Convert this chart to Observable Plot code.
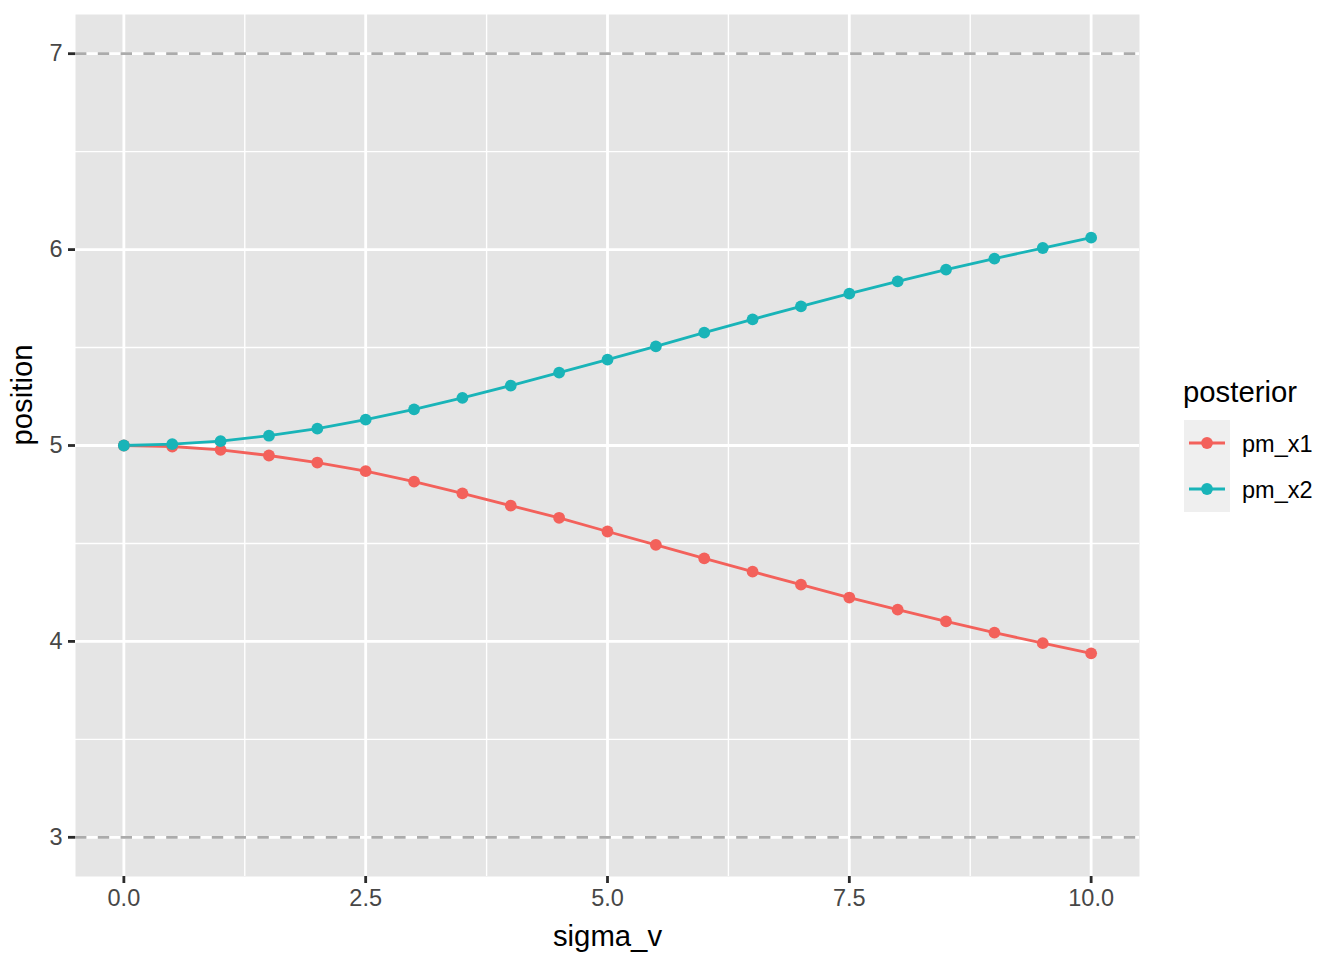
<!DOCTYPE html>
<html>
<head>
<meta charset="utf-8">
<script src="https://cdn.jsdelivr.net/npm/d3@7"></script>
<script src="https://cdn.jsdelivr.net/npm/@observablehq/plot@0.6"></script>
<style>
  body { margin: 0; background: #ffffff; }
  #chart svg { display: block; }
</style>
</head>
<body>
<div id="chart"></div>
<script>
const sigma_v = [0, 0.5, 1, 1.5, 2, 2.5, 3, 3.5, 4, 4.5, 5, 5.5, 6, 6.5, 7, 7.5, 8, 8.5, 9, 9.5, 10];
const pm_x1 = [5.000, 4.995, 4.978, 4.949, 4.913, 4.869, 4.816, 4.756, 4.693, 4.631, 4.561,
               4.493, 4.424, 4.356, 4.290, 4.224, 4.162, 4.102, 4.045, 3.991, 3.939];
const pm_x2 = [5.000, 5.007, 5.022, 5.050, 5.086, 5.132, 5.184, 5.243, 5.306, 5.372, 5.438,
               5.506, 5.576, 5.644, 5.710, 5.775, 5.838, 5.898, 5.954, 6.008, 6.061];
const series = ["pm_x1", "pm_x2"];
const seriesColors = ["#F3615B", "#19B4B8"];
const xTicks = [0, 2.5, 5, 7.5, 10];
const xMinor = [1.25, 3.75, 6.25, 8.75];
const yTicks = [3, 4, 5, 6, 7];
const yMinor = [3.5, 4.5, 5.5, 6.5];
const refLines = [3, 7];
const xTitle = "sigma_v";
const yTitle = "position";
const legendTitle = "posterior";

const seriesValues = {pm_x1, pm_x2};
const data = [];
series.forEach(s => {
  sigma_v.forEach((x, i) => data.push({sigma_v: x, position: seriesValues[s][i], posterior: s}));
});

const FONT = "'Liberation Sans', Arial, Helvetica, sans-serif";

const chart = Plot.plot({
  width: 1344,
  height: 960,
  marginLeft: 75,
  marginRight: 205,
  marginTop: 14,
  marginBottom: 84,
  style: {fontFamily: FONT, background: "white", color: "black"},
  x: {domain: [-0.5, 10.5]},
  y: {domain: [2.8, 7.2]},
  color: {domain: series, range: seriesColors},
  marks: [
    Plot.frame({fill: "#E5E5E5", stroke: "none"}),
    Plot.ruleX(xMinor, {stroke: "white", strokeWidth: 1.4}),
    Plot.ruleY(yMinor, {stroke: "white", strokeWidth: 1.4}),
    Plot.ruleX(xTicks, {stroke: "white", strokeWidth: 2.8}),
    Plot.ruleY(yTicks, {stroke: "white", strokeWidth: 2.8}),
    Plot.ruleY(refLines, {stroke: "#ABABAB", strokeWidth: 2.8, strokeDasharray: "11.4,11.4"}),
    Plot.line(data, {x: "sigma_v", y: "position", stroke: "posterior", strokeWidth: 2.8}),
    Plot.dot(data, {x: "sigma_v", y: "position", fill: "posterior", r: 5.9}),
    Plot.axisX({ticks: xTicks, tickFormat: d => d.toFixed(1), tickSize: 7, tickPadding: 6,
                strokeWidth: 2.8, stroke: "#2B2B2B", fill: "#474747", fontSize: 23.5, label: null}),
    Plot.axisY({ticks: yTicks, tickFormat: d => String(d), tickSize: 7, tickPadding: 6,
                strokeWidth: 2.8, stroke: "#2B2B2B", fill: "#474747", fontSize: 23.5, label: null}),
    Plot.text([xTitle], {text: d => d, frameAnchor: "bottom", dy: 69, lineAnchor: "bottom",
                         fontSize: 29.3, fill: "black"}),
    Plot.text([yTitle], {text: d => d, frameAnchor: "left", dx: -44, rotate: -90, lineAnchor: "bottom",
                         fontSize: 29.3, fill: "black"})
  ]
});

// legend (ggplot-style, right side)
const svg = d3.select(chart);
const lg = svg.append("g").attr("font-family", FONT).attr("text-anchor", "start");
lg.append("text").attr("x", 1183).attr("y", 402).attr("font-size", 29.3).attr("fill", "black")
  .attr("text-anchor", "start").text(legendTitle);
lg.append("rect").attr("x", 1184).attr("y", 420).attr("width", 46).attr("height", 92).attr("fill", "#EFEFEF");
series.forEach((s, i) => {
  const cy = 443 + i * 46;
  lg.append("line").attr("x1", 1189).attr("x2", 1225).attr("y1", cy).attr("y2", cy)
    .attr("stroke", seriesColors[i]).attr("stroke-width", 2.8);
  lg.append("circle").attr("cx", 1207).attr("cy", cy).attr("r", 5.9).attr("fill", seriesColors[i]);
  lg.append("text").attr("x", 1242).attr("y", cy + 8.5).attr("font-size", 23.5).attr("fill", "black")
    .attr("text-anchor", "start").text(s);
});

document.getElementById("chart").appendChild(chart);
</script>
</body>
</html>
